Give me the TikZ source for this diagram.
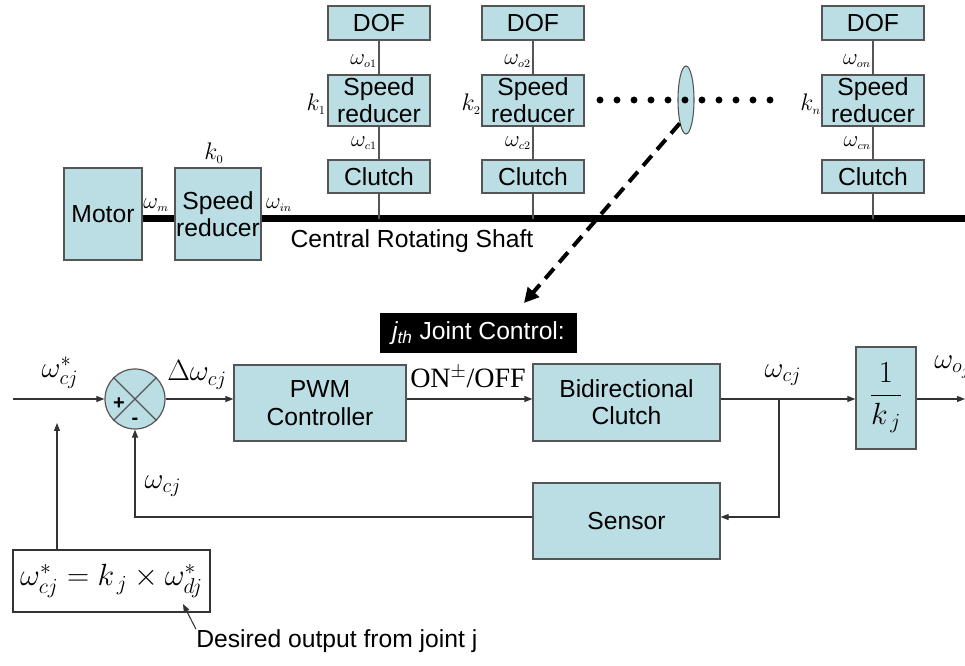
\RequirePackage{fix-cm}
\documentclass[tikz,border=0pt]{standalone}
\usepackage[no-math]{fontspec}
\setmainfont{Liberation Sans}
\newfontfamily\tmsfont{Liberation Serif}
\usetikzlibrary{arrows.meta,shapes.geometric}
\definecolor{boxfill}{RGB}{186,222,228}
\definecolor{boxline}{RGB}{85,85,85}

\begin{document}
\begin{tikzpicture}[x=0.75pt,y=-0.75pt,
  blk/.style={draw=boxline, line width=0.9pt, fill=boxfill, inner sep=0pt,
    align=center, font=\fontsize{18.5}{20.5}\selectfont},
  dofbox/.style={blk, minimum width=76.5pt, minimum height=25.5pt},
  redbox/.style={blk, minimum width=76.5pt, minimum height=38.25pt},
  clbox/.style={blk, minimum width=76.5pt, minimum height=24.75pt},
  wire/.style={draw=black!80, line width=0.8pt},
  gwire/.style={draw=boxline, line width=0.8pt},
  sig/.style={wire, -{Triangle[length=6pt,width=4.5pt]}},
  shaft/.style={draw=black, line width=5.25pt},
  sml/.style={font=\fontsize{17}{19}\selectfont, inner sep=0pt},
  kl/.style={font=\fontsize{18}{20}\selectfont, inner sep=0pt},
  big/.style={font=\fontsize{22}{26}\selectfont, inner sep=0pt},
  txt/.style={font=\fontsize{18.5}{21}\selectfont, inner sep=0pt},
]
\useasboundingbox (0,0) rectangle (965,666);

% ---------- mechanical layout ----------
\node[blk, minimum width=58.5pt, minimum height=69pt] (motor) at (103,214) {Motor};
\node[blk, minimum width=64.5pt, minimum height=69pt] (sr0) at (218,214) {Speed\\reducer};

\node[dofbox] (dof1) at (379,23)    {DOF};
\node[redbox] (sr1)  at (379,100.5) {Speed\\reducer};
\node[clbox]  (cl1)  at (379,176.5) {Clutch};

\node[dofbox] (dof2) at (533,23)    {DOF};
\node[redbox] (sr2)  at (533,100.5) {Speed\\reducer};
\node[clbox]  (cl2)  at (533,176.5) {Clutch};

\node[dofbox] (dofn) at (873,23)    {DOF};
\node[redbox] (srn)  at (873,100.5) {Speed\\reducer};
\node[clbox]  (cln)  at (873,176.5) {Clutch};

\coordinate (shaftend) at (965,219);
\draw[shaft] (motor.east |- shaftend) -- (sr0.west |- shaftend);
\draw[shaft] (sr0.east |- shaftend) -- (shaftend);

\foreach \n in {1,2,n}{
  \draw[gwire] (dof\n) -- (sr\n);
  \draw[gwire] (sr\n) -- (cl\n);
  \draw[gwire] (cl\n.south) -- (cl\n.south |- shaftend);
}

\node[sml, anchor=east] (wo1) at (377,61)  {$\omega_{\scriptscriptstyle o1}$};
\node[sml, anchor=east] (wc1) at (377,143) {$\omega_{\scriptscriptstyle c1}$};
\node[kl,  anchor=east] (k1)  at (326,104) {$k_{\scriptscriptstyle 1}$};
\node[sml, anchor=east] (wo2) at (531,61)  {$\omega_{\scriptscriptstyle o2}$};
\node[sml, anchor=east] (wc2) at (531,143) {$\omega_{\scriptscriptstyle c2}$};
\node[kl,  anchor=east] (k2)  at (481,104) {$k_{\scriptscriptstyle 2}$};
\node[sml, anchor=east] (won) at (871,61)  {$\omega_{\scriptscriptstyle on}$};
\node[sml, anchor=east] (wcn) at (871,143) {$\omega_{\scriptscriptstyle cn}$};
\node[kl,  anchor=east] (kn)  at (821,104) {$k_{\scriptscriptstyle n}$};
\node[kl] (k0) at (214,153) {$k_{\scriptscriptstyle 0}$};
\node[sml] (wm)  at (156,205) {$\omega_{\scriptscriptstyle m}$};
\node[sml] (win) at (279,205) {$\omega_{\scriptscriptstyle in}$};
\node[txt] (shaftlbl) at (412,241) {Central Rotating Shaft};

% further joints, with one of them picked out
\node[ellipse, draw=boxline, line width=0.8pt, fill=boxfill, inner sep=0pt,
      minimum width=12pt, minimum height=51pt] (lens) at (686,100) {};
\foreach \i in {0,...,10}
  \fill (600+17*\i,100) circle (2.6pt);

\coordinate (jtip) at (524,303);
\draw[line width=3pt, dash pattern=on 10pt off 6pt,
      -{Triangle[length=11pt,width=11pt]}] (lens.255) -- (jtip);

% ---------- joint control loop ----------
\node[fill=black, text=white, inner sep=0pt, minimum width=147.75pt,
      minimum height=30pt, font=\fontsize{18.5}{21}\selectfont] (jlab) at (478.5,333)
      {{\itshape j}\textsubscript{\itshape th} Joint Control:};

\node[circle, draw=boxline, line width=0.9pt, fill=boxfill, inner sep=0pt,
      minimum size=45pt] (sum) at (135,399) {};
\draw[gwire] (sum.45) -- (sum.225) (sum.135) -- (sum.315);
\node[font=\bfseries\fontsize{15}{16}\selectfont, inner sep=0pt] (plus) at (119,404) {+};
\node[font=\bfseries\fontsize{15}{16}\selectfont, inner sep=0pt] (minus) at (135,421) {-};

\node[blk, minimum width=129pt, minimum height=57pt] (pwm) at (320,403) {PWM\\Controller};
\node[blk, minimum width=140.25pt, minimum height=57.75pt] (bic) at (626.5,402.5) {Bidirectional\\Clutch};
\node[blk, minimum width=140.25pt, minimum height=57pt] (sens) at (626.5,521) {Sensor};
\node[blk, minimum width=45pt, minimum height=76.5pt, font=\fontsize{23}{27}\selectfont]
      (inv) at (886,398) {$\displaystyle\frac{1}{k_{\,j}}$};

\coordinate (inp) at (13,399);
\coordinate (outp) at (965,399);
\coordinate (br) at (779,399);
\coordinate (fbl) at (135,517);

\draw[sig] (inp) -- (sum.west);
\draw[sig] (sum.east) -- (sum.east -| pwm.west);
\draw[sig] (pwm.east |- sum) -- (bic.west |- sum);
\draw[sig] (bic.east |- sum) -- (inv.west |- sum);
\draw[sig] (inv.east |- sum) -- (outp);
\draw[sig] (br) -- (br |- fbl) -- (sens.east |- fbl);
\draw[sig] (sens.west |- fbl) -- (fbl) -- (sum.south);

\node[big] (wstar) at (60,373) {$\omega_{cj}^{*}$};
\node[big] (dw)    at (197,375) {$\Delta\omega_{cj}$};
\node[big] (wfb)   at (163,486) {$\omega_{cj}$};
\node[big] (wcr)   at (783,375) {$\omega_{cj}$};
\node[font=\tmsfont\fontsize{21}{24}\selectfont, inner sep=0pt] (onoff) at (468,377) {ON$^{\pm}$/OFF};
\node[big, anchor=west] (wo) at (934,367) {$\omega_{o_j}$};

% desired joint speed reference
\node[draw=black!80, line width=0.8pt, inner sep=0pt, minimum width=147.75pt,
      minimum height=46.5pt, font=\fontsize{23}{28}\selectfont] (ref) at (111.5,581)
      {$\omega_{cj}^{*}=k_{\,j}\times\omega_{dj}^{*}$};
\coordinate (rtip) at (57,423);
\draw[sig] (rtip |- ref.north) -- (rtip);

\node[txt, anchor=west] (desc) at (196,641) {Desired output from joint j};
\coordinate (dtip) at (183,604);
\draw[wire, -{Triangle[length=6pt,width=4.5pt]}] (desc.north west) -- (dtip);
\end{tikzpicture}
\end{document}
